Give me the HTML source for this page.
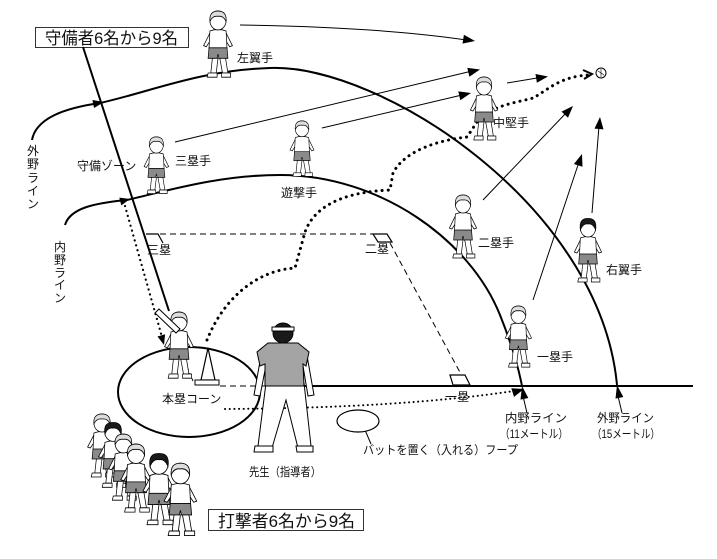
<!DOCTYPE html>
<html><head><meta charset="utf-8"><style>
html,body{margin:0;padding:0;background:#fff;}
svg{display:block;}
text{font-family:"Liberation Sans","Noto Sans CJK JP",sans-serif;fill:#111;}
</style></head><body>
<svg width="717" height="559" viewBox="0 0 717 559" xmlns="http://www.w3.org/2000/svg">
<defs>
 <g id="kid">
  <path d="M14,44 L12,60 L18,60 L20,46 Z M22,46 L25,60 L31,60 L28,44 Z" fill="#fff" stroke="#000" stroke-width="0.8"/>
  <path d="M9,60 h10 v4 h-11 z M24,60 h10 v4 h-10 z" fill="#fff" stroke="#000" stroke-width="0.8"/>
  <path d="M11,22 L4,34 L7,35 L13,27 Z M29,22 L36,34 L33,35 L27,27 Z" fill="#fff" stroke="#000" stroke-width="0.8"/>
  <path d="M11,20 Q20,17 29,20 L30,37 L10,37 Z" fill="#fff" stroke="#000" stroke-width="0.8"/>
  <path d="M10,36 L30,36 L31,46 L21,46 L20,42 L19,46 L9,46 Z" fill="#8a8a8a" stroke="#000" stroke-width="0.8"/>
  <circle cx="20" cy="10" r="9" fill="#fff" stroke="#000" stroke-width="0.8"/>
 </g>
 <path id="hairL" d="M11,11 Q10,1 20,1 Q30,1 29,11 Q26,5 20,6 Q14,5 11,11 Z" fill="#ddd" stroke="#000" stroke-width="0.8"/>
 <path id="hairD" d="M11,12 Q9,0 20,0.5 Q31,0 29,12 Q26,5 20,6 Q14,5 11,12 Z" fill="#1a1a1a" stroke="#000" stroke-width="0.8"/>
</defs>

<!-- title box top -->
<rect x="35.5" y="27.5" width="153" height="20" fill="#fff" stroke="#333" stroke-width="1"/>
<text x="45" y="44" font-size="17" textLength="133" lengthAdjust="spacingAndGlyphs">守備者6名から9名</text>

<!-- diagonal line -->
<line x1="83" y1="47" x2="169" y2="311" stroke="#000" stroke-width="2"/>

<!-- outer arc -->
<path d="M32,140 C36,118 65,108 100,103 C150,92 200,70 270,68 C380,64 600,205 617,385" fill="none" stroke="#000" stroke-width="2"/>
<polygon points="104,102 94,108 92.4,100" fill="#000"/>
<!-- inner arc -->
<path d="M65,225 C70,208 95,203 127,200 C170,190 220,175 280,175 C380,175 470,240 500,315 C510,340 518,365 522,386" fill="none" stroke="#000" stroke-width="2"/>
<polygon points="130,199 121.3,205.4 119.3,197.6" fill="#000"/>

<!-- baseline -->
<line x1="300" y1="386" x2="693" y2="386" stroke="#000" stroke-width="2"/>
<line x1="220" y1="386" x2="300" y2="386" stroke="#000" stroke-width="1" stroke-dasharray="6 4"/>

<!-- base paths dashed -->
<line x1="160" y1="234" x2="373" y2="234" stroke="#000" stroke-width="1" stroke-dasharray="6 4"/>
<line x1="390" y1="243" x2="462" y2="376" stroke="#000" stroke-width="1" stroke-dasharray="6 4"/>

<!-- bases -->
<polyline points="146,234 158,234 163,243" fill="none" stroke="#000" stroke-width="1.2"/>
<polygon points="373,234 387,234 392,242 378,242" fill="#fff" stroke="#000" stroke-width="1.2"/>
<polygon points="450,375 465,375 470,385 453,385" fill="#fff" stroke="#000" stroke-width="1.2"/>

<!-- thin arrows -->
<g stroke="#000" stroke-width="1" fill="none">
 <path d="M240,25 Q380,27 470,40.5"/>
 <line x1="175" y1="142" x2="470" y2="71.5"/>
 <line x1="322" y1="128" x2="462" y2="95"/>
 <line x1="507" y1="83" x2="540" y2="77.5"/>
 <line x1="483" y1="200" x2="567" y2="112"/>
 <line x1="533" y1="300" x2="579" y2="162"/>
 <line x1="592" y1="213" x2="599" y2="126"/>
 <line x1="527" y1="413" x2="523" y2="396"/>
 <line x1="622" y1="413" x2="618" y2="396"/>
 <line x1="365" y1="430" x2="371" y2="444"/>
</g>
<g fill="#000">
 <polygon points="475,41 462.5,43.6 463.9,34.8"/>
 <polygon points="480,69.5 469.4,76.7 467.3,67.9"/>
 <polygon points="471,93 460.3,100.2 458.3,91.4"/>
 <polygon points="548,76.5 536.9,82.8 535.5,74"/>
 <polygon points="573,106 568,117.8 561.5,111.6"/>
 <polygon points="582,154 582.5,166.8 573.9,164"/>
 <polygon points="600,117 603.5,129.4 594.5,128.6"/>
 <polygon points="522,386 528.3,398 520.5,399.6"/>
 <polygon points="617,385 623.3,397 615.5,398.6"/>
 <polygon points="524,389 514,396.9 511.3,388.3"/>
 <polygon points="164,345 157.5,336.5 165.1,334.3"/>
</g>

<!-- dotted trajectories -->
<path d="M207,340 C225,295 260,270 295,268 L305,232 C315,205 345,192 390,190 L393,173 C405,150 440,140 467,137 L477,122 C490,105 520,102 533,98 C548,90 560,76 590,75" fill="none" stroke="#000" stroke-width="3" stroke-linecap="round" stroke-dasharray="0.1 6"/>
<polyline points="583,70 592,74 584,79" fill="none" stroke="#000" stroke-width="2"/>
<circle cx="601" cy="73" r="5" fill="#fff" stroke="#000" stroke-width="1"/>
<path d="M598,71 L604,75 M601,69 L601,77" stroke="#000" stroke-width="0.6"/>
<path d="M125,206 L162,337" fill="none" stroke="#000" stroke-width="2.2" stroke-linecap="round" stroke-dasharray="0.1 5"/>
<path d="M225,409 Q400,408 514,391" fill="none" stroke="#000" stroke-width="2" stroke-linecap="round" stroke-dasharray="0.1 4.5"/>

<!-- home circle, hoop, cone -->
<ellipse cx="189" cy="392" rx="71" ry="45" fill="none" stroke="#000" stroke-width="2"/>
<ellipse cx="358" cy="421" rx="21" ry="11" fill="#fff" stroke="#000" stroke-width="1.2"/>
<polygon points="201,380 208,348 215,380" fill="#fff" stroke="#000" stroke-width="1.2"/>
<rect x="195" y="380" width="24" height="5" fill="#fff" stroke="#000" stroke-width="1"/>
<line x1="185" y1="362" x2="193" y2="381" stroke="#000" stroke-width="1" stroke-dasharray="3 3"/>

<!-- fielders (narrowed) -->
<g transform="translate(200,10) scale(0.9,1.05)"><use href="#kid"/><use href="#hairL"/></g>
<g transform="translate(141,136) scale(0.77,0.9)"><use href="#kid"/><use href="#hairL"/></g>
<g transform="translate(287,120) scale(0.75,0.88)"><use href="#kid"/><use href="#hairL"/></g>
<g transform="translate(467,76) scale(0.85,1)"><use href="#kid"/><use href="#hairL"/></g>
<g transform="translate(446,194) scale(0.85,1)"><use href="#kid"/><use href="#hairL"/></g>
<g transform="translate(571,218) scale(0.85,1)"><use href="#kid"/><use href="#hairD"/></g>
<g transform="translate(502,305) scale(0.82,0.97)"><use href="#kid"/><use href="#hairL"/></g>

<!-- batter -->
<g transform="translate(161,311) scale(0.9,1.05)"><use href="#kid"/><use href="#hairL"/></g>
<polygon points="155,313 159,309 180,329 176,333" fill="#fff" stroke="#000" stroke-width="1"/>

<!-- teacher -->
<g stroke="#000" stroke-width="1">
 <path d="M266,383 L304,383 L311,446 L298,448 L286,400 L272,448 L258,446 Z" fill="#fff"/>
 <path d="M255,446 h18 v6 h-19 z M296,446 h17 v6 h-16 z" fill="#fff"/>
 <path d="M262,350 L254,395 L260,396 L267,360 Z M306,350 L314,395 L308,396 L302,360 Z" fill="#fff"/>
 <path d="M268,343 L298,343 L309,352 L306,366 L303,364 L304,386 L265,386 L265,364 L260,366 L257,352 Z" fill="#a4a4a4"/>
 <circle cx="283" cy="333" r="10" fill="#1a1a1a"/>
 <rect x="272" y="327" width="22" height="4" fill="#fff"/>
</g>

<!-- batting kids -->
<g transform="translate(84,413) scale(0.9,1)"><use href="#kid"/><use href="#hairL"/></g>
<g transform="translate(95,422) scale(0.9,1.02)"><use href="#kid"/><use href="#hairD"/></g>
<g transform="translate(105,433) scale(0.92,1.05)"><use href="#kid"/><use href="#hairL"/></g>
<g transform="translate(117,443) scale(0.95,1.08)"><use href="#kid"/><use href="#hairL"/></g>
<g transform="translate(139,453) scale(1,1.12)"><use href="#kid"/><use href="#hairD"/></g>
<g transform="translate(160,462) scale(1.02,1.15)"><use href="#kid"/><use href="#hairL"/></g>

<!-- labels -->
<g font-size="12">
 <text x="237" y="62">左翼手</text>
 <text x="175" y="165">三塁手</text>
 <text x="77" y="170">守備ゾーン</text>
 <text x="281" y="197">遊撃手</text>
 <text x="493" y="127">中堅手</text>
 <text x="478" y="247">二塁手</text>
 <text x="606" y="274">右翼手</text>
 <text x="537" y="361">一塁手</text>
 <text x="147" y="254">三塁</text>
 <text x="365" y="253">二塁</text>
 <text x="445" y="401">一塁</text>
 <text x="162" y="403">本塁コーン</text>
 <text x="363" y="454" textLength="155" lengthAdjust="spacingAndGlyphs">バットを置く（入れる）フープ</text>
 <text x="505" y="422" textLength="62" lengthAdjust="spacingAndGlyphs">内野ライン</text>
 <text x="500" y="438" textLength="68" lengthAdjust="spacingAndGlyphs">（11メートル）</text>
 <text x="597" y="422" textLength="57" lengthAdjust="spacingAndGlyphs">外野ライン</text>
 <text x="592" y="438" textLength="68" lengthAdjust="spacingAndGlyphs">（15メートル）</text>
 <text x="249" y="476" textLength="72" lengthAdjust="spacingAndGlyphs">先生（指導者）</text>
 <g text-anchor="middle">
  <text x="33" y="155">外</text><text x="33" y="168">野</text><text x="33" y="182">ラ</text><text x="33" y="195">イ</text><text x="33" y="208">ン</text>
  <text x="60" y="251">内</text><text x="60" y="264">野</text><text x="60" y="277">ラ</text><text x="60" y="289">イ</text><text x="60" y="302">ン</text>
 </g>
</g>

<!-- bottom box -->
<rect x="208.5" y="509.5" width="155" height="21" fill="#fff" stroke="#333" stroke-width="1"/>
<text x="218" y="527" font-size="17" textLength="137" lengthAdjust="spacingAndGlyphs">打撃者6名から9名</text>
</svg>
</body></html>
